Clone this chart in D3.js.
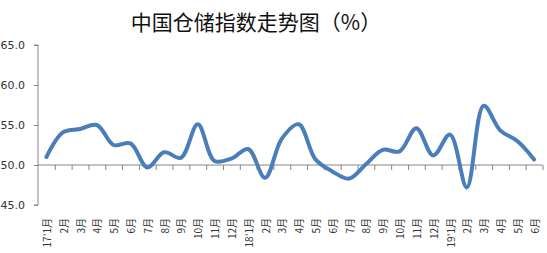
<!DOCTYPE html>
<meta charset="utf-8">
<style>
body { margin: 0; background: #fff; }
.axis path, .axis line { stroke: #868686; }
.ylab text { font-family: "DejaVu Sans", sans-serif; font-size: 11px; fill: #333; }
.xlab { font-family: "Noto Sans CJK SC", sans-serif; font-size: 10px; fill: #333; }
</style>
<body>
<script src="https://cdn.jsdelivr.net/npm/d3@7/dist/d3.min.js"></script>
<script>

// categories (months) and index values
var months = ["17'1月","2月","3月","4月","5月","6月","7月","8月","9月","10月","11月","12月",
              "18'1月","2月","3月","4月","5月","6月","7月","8月","9月","10月","11月","12月",
              "19'1月","2月","3月","4月","5月","6月"];
var values = [51.0, 54.1, 54.5, 55.0, 52.5, 52.7, 49.7, 51.6, 50.9, 55.1, 50.5, 50.8,
              52.0, 48.4, 53.3, 55.1, 50.7, 49.2, 48.3, 50.1, 51.9, 51.7, 54.6, 51.2,
              53.8, 47.2, 57.4, 54.3, 53.0, 50.7];
var yTicks = [45, 50, 55, 60, 65];

var width = 547, height = 253;
var plot = {left: 38, right: 542.5, top: 45, bottom: 205};

var svg = d3.select("body").append("svg")
    .attr("width", width)
    .attr("height", height);

// index of category -> x
var idx = d3.range(months.length);
var x = d3.scaleBand().domain(idx).range([plot.left, plot.right]).padding(0);
var xi = d3.scaleLinear().domain([0, months.length]).range([plot.left, plot.right]);
var y = d3.scaleLinear().domain([45, 65]).range([plot.bottom, plot.top]);

// title
svg.append("text")
    .attr("x", 256)
    .attr("y", 30)
    .attr("text-anchor", "middle")
    .style("font-family", "'Noto Sans CJK SC', sans-serif")
    .style("font-size", "21px")
    .style("fill", "#111")
    .text("中国仓储指数走势图（%）");

// y axis
svg.append("g")
    .attr("class", "axis ylab")
    .attr("transform", "translate(" + plot.left + ",0)")
    .call(d3.axisLeft(y).tickValues(yTicks).tickSize(4).tickPadding(9).tickFormat(d3.format(".1f")))
    .call(function(g) { g.select(".domain").attr("d", "M-4," + y(65) + "H0V" + y(45) + "H-4"); });

// category axis crossing at 50
svg.append("g")
    .attr("class", "axis")
    .attr("transform", "translate(0," + y(50) + ")")
    .call(d3.axisBottom(xi).tickValues(d3.range(1, months.length + 1)).tickSize(5).tickFormat(""))
    .call(function(g) { g.select(".domain").attr("d", "M" + plot.left + ",0H" + plot.right); });

// category labels at the bottom, rotated
svg.append("g").selectAll("text")
    .data(idx)
  .enter().append("text")
    .attr("class", "xlab")
    .attr("text-anchor", "end")
    .attr("transform", function(d) {
      return "translate(" + (x(d) + x.bandwidth() / 2 + 1) + ",218) rotate(-90)";
    })
    .attr("dy", "0.35em")
    .text(function(d) { return months[d]; });

// line
var line = d3.line()
    .x(function(d, i) { return x(i) + x.bandwidth() / 2; })
    .y(function(d) { return y(d); })
    .curve(d3.curveCatmullRom.alpha(0.5));

svg.append("path")
    .datum(values)
    .attr("fill", "none")
    .attr("stroke", "#4a7ebb")
    .attr("stroke-width", 4)
    .attr("stroke-linecap", "round")
    .attr("d", line);

</script>
</body>
